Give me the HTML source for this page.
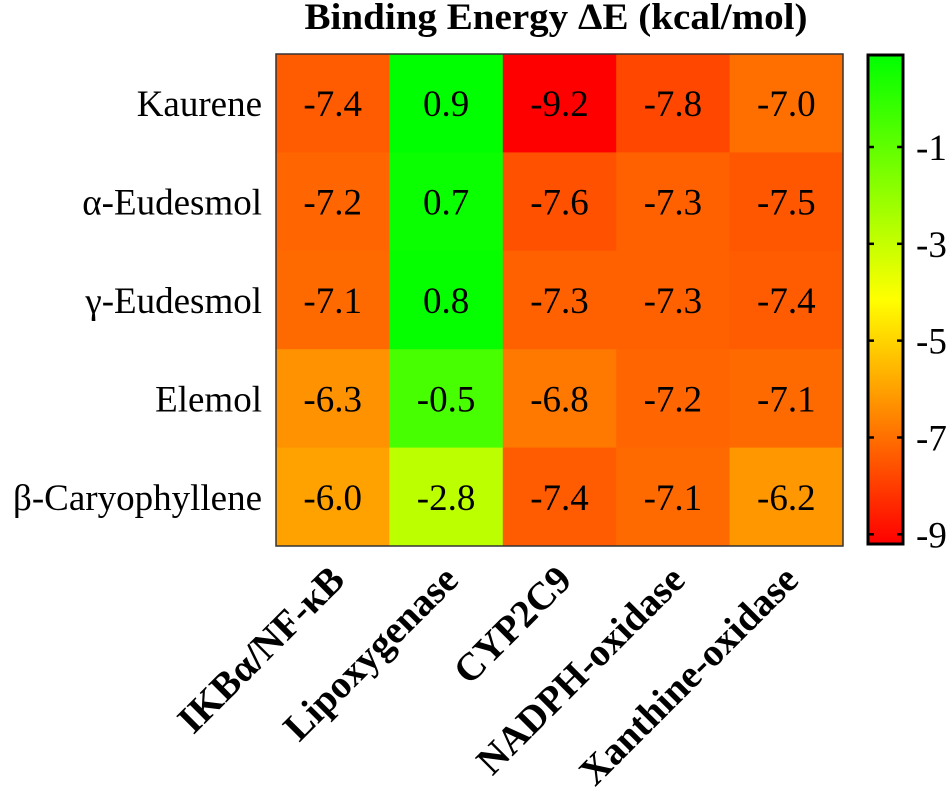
<!DOCTYPE html>
<html><head><meta charset="utf-8"><style>
html,body{margin:0;padding:0;background:#fff;}
svg{display:block;font-family:"Liberation Serif",serif;}
</style></head><body>
<svg id="chart" width="949" height="787" viewBox="0 0 949 787" xmlns="http://www.w3.org/2000/svg">
<text x="556" y="29" text-anchor="middle" font-weight="bold" font-size="37" textLength="503" lengthAdjust="spacingAndGlyphs">Binding Energy ΔE (kcal/mol)</text>
<g id="cells"></g>
<g id="rowlabels"></g>
<g id="collabels"></g>
<defs><linearGradient id="cbgrad" x1="0" y1="0" x2="0" y2="1">
<stop offset="0" stop-color="#00ff00"/><stop offset="0.5" stop-color="#ffff00"/><stop offset="1" stop-color="#ff0000"/>
</linearGradient></defs>
<rect x="868" y="55" width="35" height="489" fill="url(#cbgrad)" stroke="#000" stroke-width="3"/>
<g id="cbticks"></g>
</svg>
<script>
const rows = ["Kaurene","α-Eudesmol","γ-Eudesmol","Elemol","β-Caryophyllene"];
const cols = ["IKBα/NF-κB","Lipoxygenase","CYP2C9","NADPH-oxidase","Xanthine-oxidase"];
const r0 = [-7.4, 0.9, -9.2, -7.8, -7.0];
const r1 = [-7.2, 0.7, -7.6, -7.3, -7.5];
const r2 = [-7.1, 0.8, -7.3, -7.3, -7.4];
const r3 = [-6.3, -0.5, -6.8, -7.2, -7.1];
const r4 = [-6.0, -2.8, -7.4, -7.1, -6.2];
const values = [r0, r1, r2, r3, r4];
const cbTicks = [-1, -3, -5, -7, -9];
const vmax = 0.9, vmin = -9.2;

const NS = "http://www.w3.org/2000/svg";
const X0 = 276, Y0 = 54, W = 567, H = 492;
const cw = W / cols.length, rh = H / rows.length;
function colX(i){ return X0 + i * cw; }
function rowY(j){ return Y0 + j * rh; }
function color(v){
  const t = Math.max(0, Math.min(1, (vmax - v) / (vmax - vmin)));
  let r, g;
  if (t < 0.5) { r = Math.round(255 * t * 2); g = 255; } else { r = 255; g = Math.round(255 * (1 - t) * 2); }
  return `rgb(${r},${g},0)`;
}
function cbY(v){ return 55 + (vmax - v) / (vmax - vmin) * 489; }
function mk(tag, attrs, parent){ const e = document.createElementNS(NS, tag); for (const k in attrs) e.setAttribute(k, attrs[k]); parent.appendChild(e); return e; }

const cells = document.getElementById("cells");
values.forEach((row, j) => row.forEach((v, i) => {
  const rc = mk("rect", {x: colX(i), y: rowY(j), width: cw + 0.5, height: rh + 0.5, fill: color(v)}, cells);
  
  
  const t = mk("text", {x: colX(i) + cw / 2, y: rowY(j) + rh / 2 + 13, "text-anchor": "middle", "font-size": "37"}, cells);
  
  
  t.textContent = v.toFixed(1);
}));
const border = mk("rect", {x: X0, y: Y0, width: W, height: H, fill: "none", stroke: "#333", "stroke-width": "1.5"}, cells);



const rl = document.getElementById("rowlabels");
rows.forEach((name, j) => {
  const t = mk("text", {x: 262, y: rowY(j) + rh / 2 + 13, "text-anchor": "end", "font-size": "37"}, rl);
  
  
  t.textContent = name;
});

const cl = document.getElementById("collabels");
cols.forEach((name, i) => {
  const x = colX(i) + cw / 2 + 14, y = 582;
  const t = mk("text", {x: x, y: y, "text-anchor": "end", "font-size": "39", "font-weight": "bold", transform: `rotate(-45 ${x} ${y})`}, cl);
  
  
  t.textContent = name;
});

const ct = document.getElementById("cbticks");
cbTicks.forEach(v => {
  const y = cbY(v);
  const l1 = mk("line", {x1: 868, x2: 874, y1: y, y2: y, stroke: "#000", "stroke-width": "2.5"}, ct);
  
  
  const l2 = mk("line", {x1: 897, x2: 903, y1: y, y2: y, stroke: "#000", "stroke-width": "2.5"}, ct);
  
  
  const t = mk("text", {x: 916, y: y + 13, "font-size": "37"}, ct);
  
  
  t.textContent = String(v);
});
</script>
</body></html>
